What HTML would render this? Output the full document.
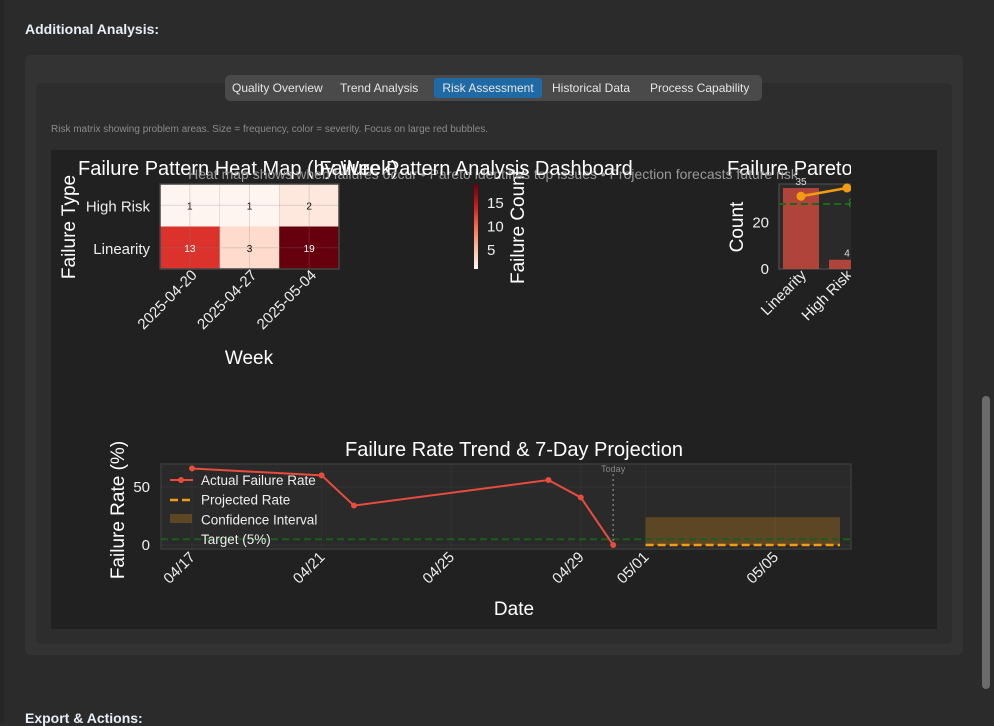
<!DOCTYPE html>
<html><head><meta charset="utf-8"><style>
html,body{margin:0;padding:0;width:994px;height:723px;overflow:hidden;background:#2b2b2b;font-family:"Liberation Sans",sans-serif}
.abs{position:absolute}
</style></head><body>
<div class="abs" style="left:0;top:0;width:4px;height:723px;background:#262626"></div>
<div class="abs" style="left:25px;top:21px;color:#e8eef6;font-size:14px;font-weight:bold">Additional Analysis:</div>
<div class="abs" style="left:25px;top:55px;width:938px;height:600px;background:#333;border-radius:6px"></div>
<div class="abs" style="left:36px;top:83px;width:916px;height:561px;background:#2d2d2d;border-radius:5px"></div>
<div class="abs" style="left:225px;top:75px;width:537px;height:26px;background:#4a4a4a;border-radius:5px;font-size:12px;color:#e6e6e6">
 <span class="abs" style="left:7px;top:6px">Quality Overview</span>
 <span class="abs" style="left:115px;top:6px">Trend Analysis</span>
 <span class="abs" style="left:209px;top:3px;width:108px;height:20px;line-height:20px;background:#1f6aa5;border-radius:3px;text-align:center">Risk Assessment</span>
 <span class="abs" style="left:327px;top:6px">Historical Data</span>
 <span class="abs" style="left:425px;top:6px">Process Capability</span>
</div>
<div class="abs" style="left:51px;top:124px;color:#8a8a8a;font-size:10px">Risk matrix showing problem areas. Size = frequency, color = severity. Focus on large red bubbles.</div>
<div class="abs" style="left:982px;top:396px;width:8px;height:293px;background:#6b6b6b;border-radius:4px"></div>
<div class="abs" style="left:25px;top:710px;color:#e8eef6;font-size:14px;font-weight:bold">Export &amp; Actions:</div>

<svg class="abs" style="left:0;top:0" width="994" height="723" font-family="Liberation Sans, sans-serif">
<defs>
<clipPath id="figclip"><rect x="51" y="150" width="800" height="479"/></clipPath>
<linearGradient id="reds" x1="0" y1="1" x2="0" y2="0">
<stop offset="0" stop-color="#fff5f0"/><stop offset="0.25" stop-color="#fcbba1"/><stop offset="0.5" stop-color="#fb6a4a"/><stop offset="0.75" stop-color="#cb181d"/><stop offset="1" stop-color="#67000d"/></linearGradient>
</defs>
<rect x="51" y="150" width="886" height="479" fill="#212121"/>
<g id="heat"></g>
<g id="pareto" clip-path="url(#figclip)"></g>
<g id="trend"></g>
<text x="493" y="179" font-size="14" fill="#999" text-anchor="middle">Heat map shows when failures occur • Pareto identifies top issues • Projection forecasts future risk</text>
<text x="476" y="175" font-size="20" fill="#fff" text-anchor="middle">Failure Pattern Analysis Dashboard</text>
</svg>

<script>
const weeks=["2025-04-20","2025-04-27","2025-05-04"];
const failTypes=["High Risk","Linearity"];
const heatValues=[[1,1,2],[13,3,19]];
const cbTicks=[5,10,15];
const paretoCats=["Linearity","High Risk"];
const paretoCounts=[35,4];
const paretoCum=[89.7,100];
const countTicks=[0,20];
const trendDates=["2025-04-17","2025-04-21","2025-04-22","2025-04-28","2025-04-29","2025-04-30"];
const trendRates=[66,60,34,56,41,0];
const projDates=["2025-05-01","2025-05-07"];
const projRates=[0,0];
const ciLow=[0,0];
const ciHigh=[24,24];
const dateTicks=["2025-04-17","2025-04-21","2025-04-25","2025-04-29","2025-05-01","2025-05-05"];
const rateTicks=[0,50];
const todayDate="2025-04-30";
const targetRate=5;

const NS="http://www.w3.org/2000/svg";
function mk(parent,tag,attrs,txt){const e=document.createElementNS(NS,tag);for(const k in attrs)e.setAttribute(k,attrs[k]);if(txt!==undefined)e.textContent=txt;parent.appendChild(e);return e;}

// heatmap
(function(){
const g=document.getElementById('heat');
const x0=160,y0=184,cw=(339-160)/weeks.length,ch=(269-184)/failTypes.length;
const vmin=1,vmax=19;
function color(v){const t=(v-vmin)/(vmax-vmin);const stops=[[255,245,240],[252,187,161],[251,106,74],[203,24,29],[103,0,13]];const p=Math.max(0,Math.min(1,t))*4;const i=Math.min(3,Math.floor(p));const f=p-i;const a=stops[i],b=stops[i+1];return `rgb(${Math.round(a[0]+(b[0]-a[0])*f)},${Math.round(a[1]+(b[1]-a[1])*f)},${Math.round(a[2]+(b[2]-a[2])*f)})`;}
heatValues.forEach((row,r)=>row.forEach((v,c)=>{
 const rc=mk(g,'rect',{x:x0+c*cw,y:y0+r*ch,width:cw,height:ch,fill:color(v)});
 
 
 const t=mk(g,'text',{x:x0+c*cw+cw/2,y:y0+r*ch+ch/2+4,'font-size':10,'text-anchor':'middle',fill:(v-vmin)/(vmax-vmin)>0.5?'#fff':'#000'},String(v));
 
 
}));
for(let c=0;c<weeks.length;c++)mk(g,'line',{x1:x0+c*cw+cw/2,x2:x0+c*cw+cw/2,y1:y0,y2:269,stroke:'rgba(128,128,128,0.25)'});
for(let r=0;r<failTypes.length;r++)mk(g,'line',{x1:x0,x2:339,y1:y0+r*ch+ch/2,y2:y0+r*ch+ch/2,stroke:'rgba(128,128,128,0.25)'});
mk(g,'rect',{x:x0,y:y0,width:179,height:85,fill:'none',stroke:'#444','stroke-width':1.5});
failTypes.forEach((n,r)=>{const t=mk(g,'text',{x:150,y:y0+r*ch+ch/2+6,'font-size':15,'text-anchor':'end',fill:'#eee'},n);});
weeks.forEach((n,c)=>{const cx=x0+c*cw+cw/2;const x=cx+8,y=276;const t=mk(g,'text',{x:x,y:y,'font-size':15,'text-anchor':'end',fill:'#eee',transform:`rotate(-45 ${x} ${y})`},n);});
mk(g,'text',{x:249,y:364,'font-size':19,'text-anchor':'middle',fill:'#fff',},'Week');
mk(g,'text',{x:75,y:227,'font-size':19,'text-anchor':'middle',fill:'#fff',transform:'rotate(-90 75 227)',},'Failure Type');
mk(g,'text',{x:78,y:175,'font-size':20,fill:'#fff',},'Failure Pattern Heat Map (by Week)');
// colorbar
mk(g,'rect',{x:474,y:184,width:4,height:85,fill:'url(#reds)',});
cbTicks.forEach(v=>{const y=269-(v-vmin)/(vmax-vmin)*85;mk(g,'text',{x:487,y:y+5,'font-size':15,fill:'#eee'},String(v));});
mk(g,'text',{x:524,y:227,'font-size':19,'text-anchor':'middle',fill:'#fff',transform:'rotate(-90 524 227)',},'Failure Count');
})();

// pareto
(function(){
const g=document.getElementById('pareto');
const ax0=779,ay0=184,ay1=269;
const ymax=36.75;
const ys=v=>ay1-v/ymax*(ay1-ay0);
const ps=p=>188+(100-p)*0.8;
const xs=i=>801+i*46;
mk(g,'rect',{x:ax0,y:ay0,width:120,height:85,fill:'#2a2a2a',stroke:'#444','stroke-width':1.5});
paretoCounts.forEach((v,i)=>{
 const b=mk(g,'rect',{x:xs(i)-18,y:ys(v),width:36,height:ay1-ys(v),fill:'#b0443a'});
 
 
 mk(g,'text',{x:xs(i),y:ys(v)-3,'font-size':10,'text-anchor':'middle',fill:'#ddd'},String(v));
 const x=xs(i)+6,y=276;
 const t=mk(g,'text',{x:x,y:y,'font-size':15,'text-anchor':'end',fill:'#eee',transform:`rotate(-45 ${x} ${y})`},paretoCats[i]);
 
});
mk(g,'line',{x1:ax0,x2:900,y1:ps(80),y2:ps(80),stroke:'#1a6a1a','stroke-width':2,'stroke-dasharray':'7 4'});
mk(g,'text',{x:848,y:ps(80)+3,'font-size':12,fill:'#1a8a1a'},'80%');
mk(g,'polyline',{points:paretoCum.map((p,i)=>xs(i)+','+ps(p)).join(' '),fill:'none',stroke:'#f39c12','stroke-width':2.5,});
paretoCum.forEach((p,i)=>{const c=mk(g,'circle',{cx:xs(i),cy:ps(p),r:4.5,fill:'#f39c12'});});
countTicks.forEach(v=>mk(g,'text',{x:769,y:ys(v)+5,'font-size':15,'text-anchor':'end',fill:'#eee'},String(v)));
mk(g,'text',{x:743,y:227,'font-size':19,'text-anchor':'middle',fill:'#fff',transform:'rotate(-90 743 227)',},'Count');
mk(g,'text',{x:727,y:175,'font-size':20,fill:'#fff',},'Failure Pareto Analysis');
})();

// trend
(function(){
const g=document.getElementById('trend');
const day=s=>Date.UTC(+s.slice(0,4),+s.slice(5,7)-1,+s.slice(8,10))/864e5;
const d0=day("2025-04-17");
const xs=s=>192+(day(s)-d0)*32.4;
const ys=v=>545-v*1.16;
const L=161,R=851,T=464,B=549;
mk(g,'rect',{x:L,y:T,width:R-L,height:B-T,fill:'#2a2a2a',stroke:'#3a3a3a','stroke-width':1.5,});
dateTicks.forEach(s=>mk(g,'line',{x1:xs(s),x2:xs(s),y1:T,y2:B,stroke:'rgba(255,255,255,0.04)'}));
rateTicks.forEach(v=>mk(g,'line',{x1:L,x2:R,y1:ys(v),y2:ys(v),stroke:'rgba(255,255,255,0.04)'}));
const ci=mk(g,'rect',{x:xs(projDates[0]),y:ys(ciHigh[0]),width:xs(projDates[1])-xs(projDates[0]),height:ys(ciLow[0])-ys(ciHigh[0]),fill:'#f39c12','fill-opacity':0.25});

mk(g,'line',{x1:L,x2:R,y1:ys(targetRate),y2:ys(targetRate),stroke:'#1a5e1a','stroke-width':2,'stroke-dasharray':'7 4',});
mk(g,'line',{x1:xs(todayDate),x2:xs(todayDate),y1:T+10,y2:B,stroke:'#777','stroke-width':1.5,'stroke-dasharray':'2 3',});
mk(g,'text',{x:xs(todayDate),y:472,'font-size':9,'text-anchor':'middle',fill:'#888'},'Today');
mk(g,'polyline',{points:projDates.map((s,i)=>xs(s)+','+ys(projRates[i])).join(' '),stroke:'#f39c12','stroke-width':2.5,'stroke-dasharray':'8 4',fill:'none',});
mk(g,'polyline',{points:trendDates.map((s,i)=>xs(s)+','+ys(trendRates[i])).join(' '),stroke:'#e74c3c','stroke-width':2,fill:'none',});
trendDates.forEach((s,i)=>{const c=mk(g,'circle',{cx:xs(s),cy:ys(trendRates[i]),r:3,fill:'#e74c3c'});});
// legend
const lg=mk(g,'g',{});
mk(lg,'line',{x1:170,x2:193,y1:480,y2:480,stroke:'#e74c3c','stroke-width':2});
mk(lg,'circle',{cx:181,cy:480,r:3,fill:'#e74c3c'});
mk(lg,'line',{x1:170,x2:193,y1:500,y2:500,stroke:'#f39c12','stroke-width':2.5,'stroke-dasharray':'8 4'});
mk(lg,'rect',{x:170,y:514,width:22,height:9,fill:'#f39c12','fill-opacity':0.25});
['Actual Failure Rate','Projected Rate','Confidence Interval','Target (5%)'].forEach((t,i)=>mk(lg,'text',{x:201,y:485+i*19.7,'font-size':13.5,fill:'#eee'},t));
rateTicks.forEach(v=>mk(g,'text',{x:150,y:ys(v)+5,'font-size':15,'text-anchor':'end',fill:'#eee'},String(v)));
dateTicks.forEach(s=>{const x=xs(s)+4,y=558;const t=mk(g,'text',{x:x,y:y,'font-size':15,'text-anchor':'end',fill:'#eee',transform:`rotate(-45 ${x} ${y})`},s.slice(5,7)+'/'+s.slice(8,10));});
mk(g,'text',{x:514,y:615,'font-size':19,'text-anchor':'middle',fill:'#fff',},'Date');
mk(g,'text',{x:124,y:510,'font-size':19,'text-anchor':'middle',fill:'#fff',transform:'rotate(-90 124 510)',},'Failure Rate (%)');
mk(g,'text',{x:514,y:456,'font-size':20,'text-anchor':'middle',fill:'#fff',},'Failure Rate Trend & 7-Day Projection');
})();
</script>
</body></html>
